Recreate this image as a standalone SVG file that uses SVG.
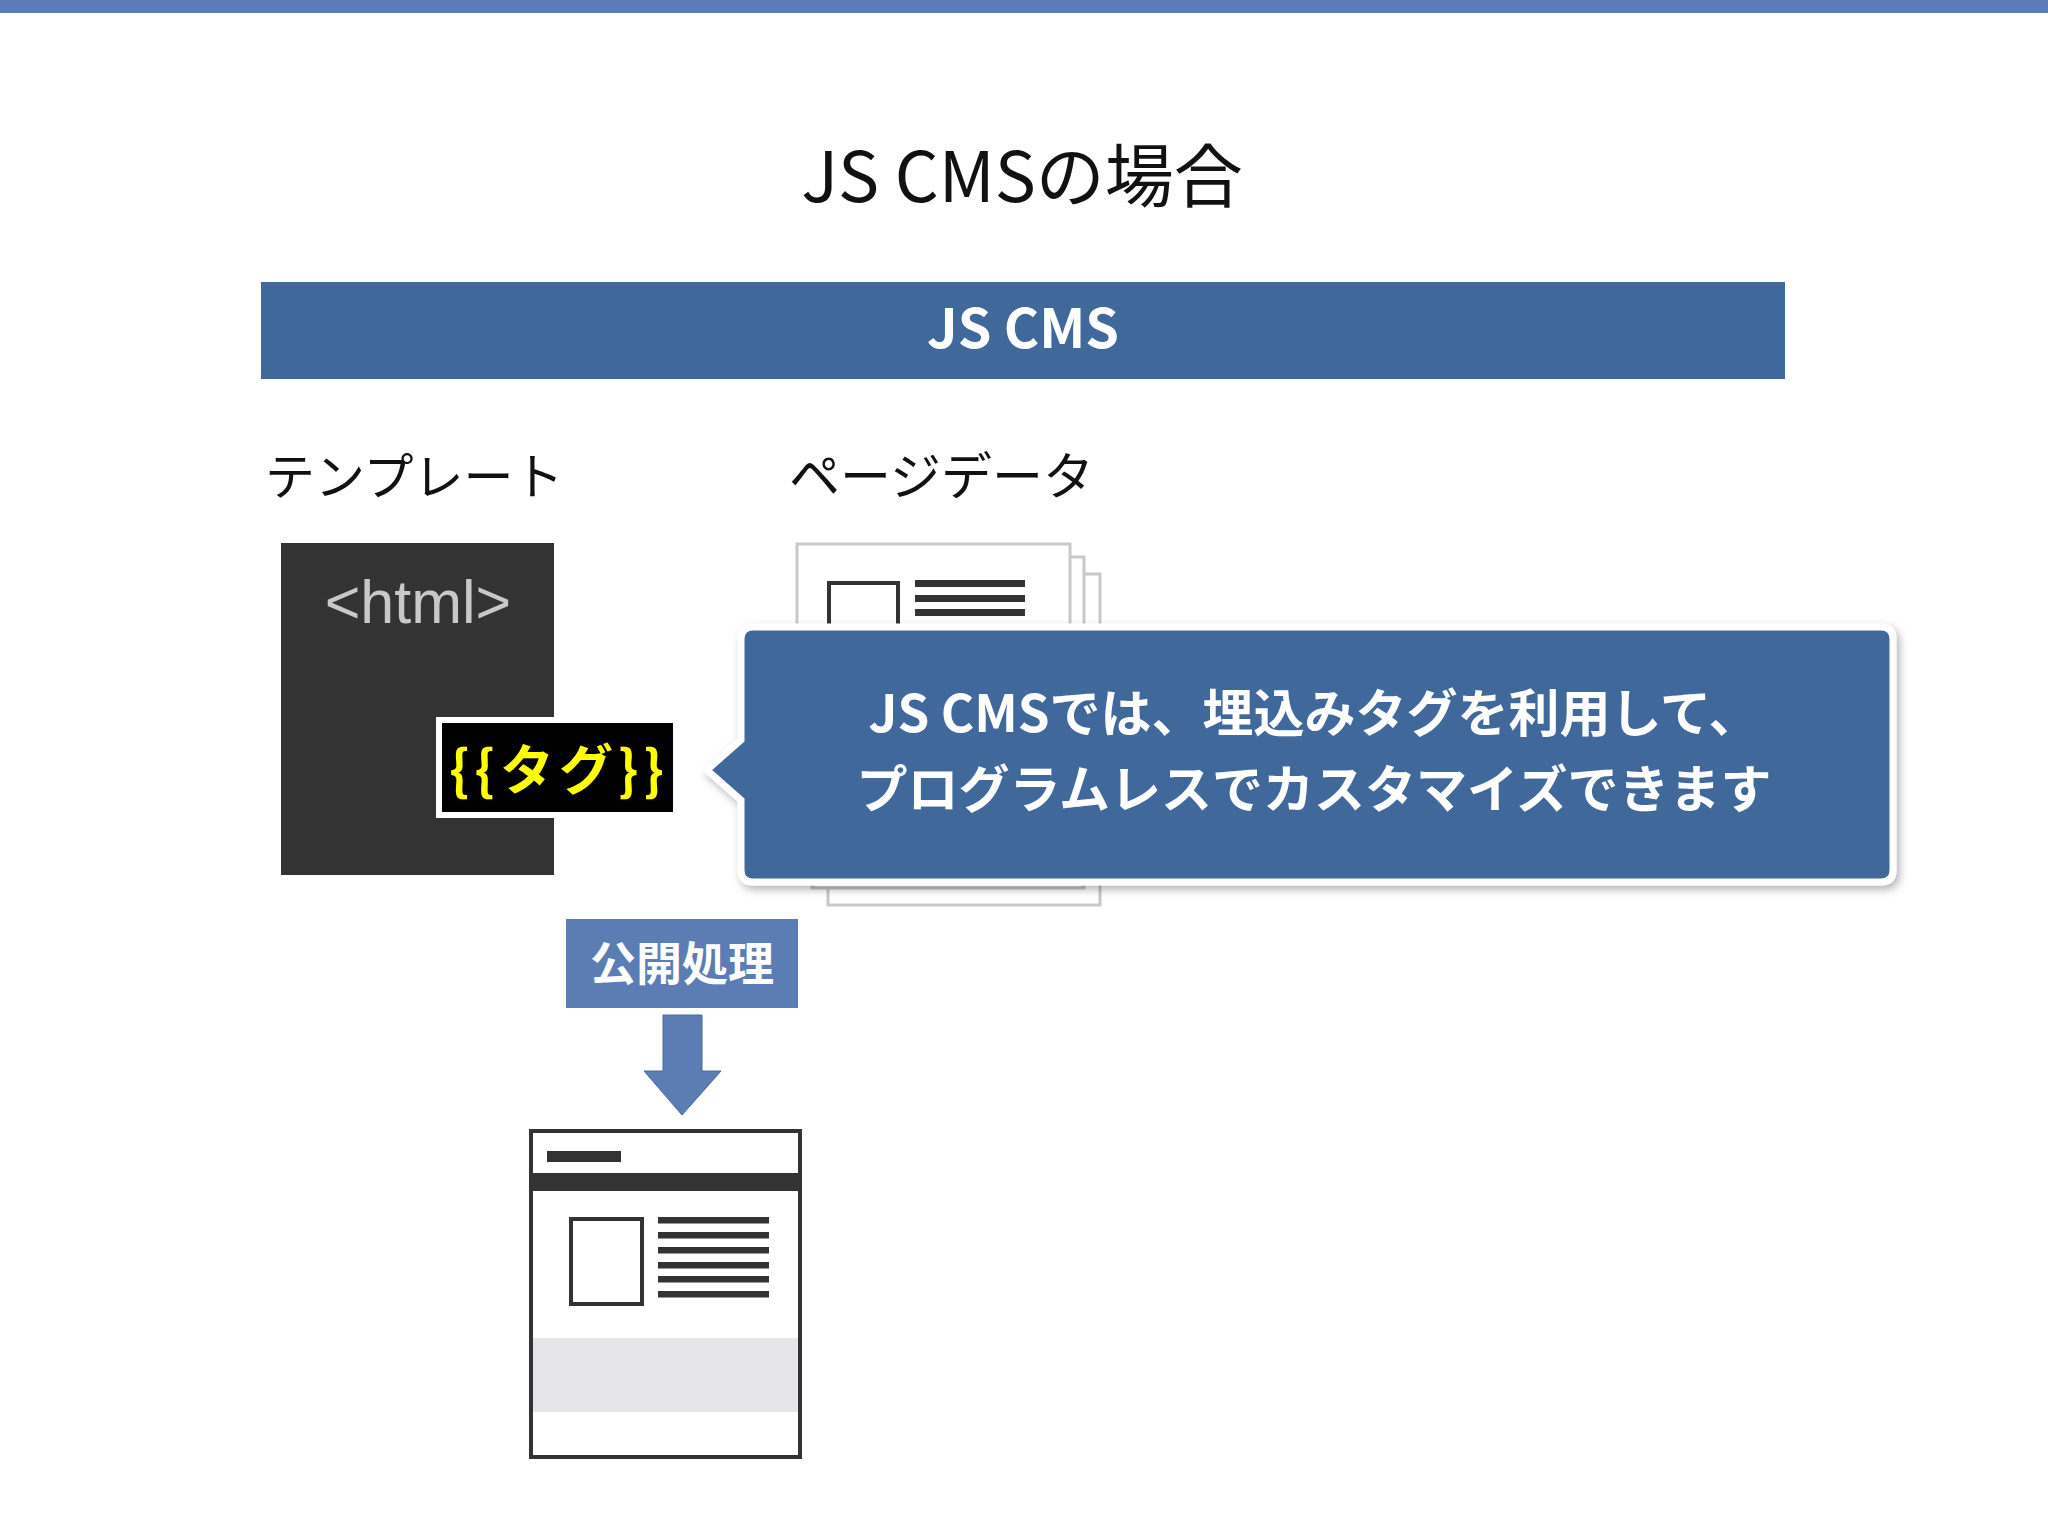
<svg xmlns="http://www.w3.org/2000/svg" width="2048" height="1536" viewBox="0 0 2048 1536">
<defs>
<style>
.jp{font-family:"Noto Sans CJK JP","Liberation Sans",sans-serif}
.b{font-weight:bold}
.w{fill:#ffffff}
.sheet{fill:#ffffff;stroke:#c8c8c8;stroke-width:3}
.ink{fill:#333333}
.blue{fill:#41689a}
.light{fill:#5b7db3}
</style>
<filter id="sh" x="-5%" y="-10%" width="115%" height="130%">
<feDropShadow dx="3" dy="4" stdDeviation="4" flood-color="#000000" flood-opacity="0.3"/>
</filter>
</defs>
<rect x="0" y="0" width="2048" height="1536" fill="#ffffff"/>
<rect x="0" y="0" width="2048" height="13" class="light"/>

<g id="title">
<text x="1022" y="202" text-anchor="middle" class="jp" font-size="69" fill="#111111">JS CMSの場合</text>
</g>

<g id="jscms-bar">
<rect x="261" y="282" width="1524" height="97" class="blue"/>
<text x="1023" y="348" text-anchor="middle" class="jp b w" font-size="54">JS CMS</text>
</g>

<g id="template-label">
<text x="265" y="495" class="jp" font-size="50" fill="#111111">テンプレート</text>
</g>
<g id="pagedata-label">
<text x="789" y="495" class="jp" font-size="51" fill="#111111">ページデータ</text>
</g>

<g id="template">
<rect x="281" y="543" width="273" height="332" class="ink"/>
<text x="418" y="623" text-anchor="middle" font-family="Liberation Sans, sans-serif" font-size="61" fill="#c8c8c8">&lt;html&gt;</text>
</g>

<g id="tag">
<rect x="439" y="720" width="237" height="95" fill="#000000" stroke="#ffffff" stroke-width="6"/>
<text x="559" y="790" text-anchor="middle" class="jp b" font-size="54" letter-spacing="5" fill="#ffff00">{{タグ}}</text>
</g>

<g id="pagedata">
<rect x="828" y="574" width="272" height="331" class="sheet"/>
<rect x="812" y="557" width="272" height="331" class="sheet"/>
<rect x="797" y="544" width="273" height="331" class="sheet"/>
<rect x="829" y="583" width="69" height="90" fill="none" stroke="#333333" stroke-width="4"/>
<rect x="915" y="580" width="110" height="7" class="ink"/>
<rect x="915" y="595" width="110" height="7" class="ink"/>
<rect x="915" y="609" width="110" height="7" class="ink"/>
</g>

<g id="callout">
<path d="M753,627 H1881 Q1893,627 1893,639 V870 Q1893,882 1881,882 H753 Q741,882 741,870 V800 L707,770 L741,740 V639 Q741,627 753,627 Z" class="blue" stroke="#ffffff" stroke-width="7" stroke-linejoin="miter" filter="url(#sh)"/>
<text x="1314" y="732" text-anchor="middle" class="jp b w" font-size="51">JS CMSでは、埋込みタグを利用して、</text>
<text x="1314" y="808" text-anchor="middle" class="jp b w" font-size="51">プログラムレスでカスタマイズできます</text>
</g>

<g id="publish">
<rect x="566" y="919" width="232" height="89" class="light"/>
<text x="682" y="980" text-anchor="middle" class="jp b w" font-size="46">公開処理</text>
</g>

<g id="connectors">
<path d="M663,1015 H702 V1071 H721 L682,1115 L644,1071 H663 Z" class="light" stroke="#4a6a9c" stroke-width="1"/>
</g>

<g id="output-page">
<rect x="531" y="1131" width="269" height="326" fill="#ffffff" stroke="#333333" stroke-width="4"/>
<rect x="547" y="1151" width="74" height="11" class="ink"/>
<rect x="531" y="1173" width="269" height="18" class="ink"/>
<rect x="571" y="1219" width="71" height="85" fill="none" stroke="#333333" stroke-width="4"/>
<rect x="658" y="1217" width="111" height="6.5" class="ink"/>
<rect x="658" y="1232" width="111" height="6.5" class="ink"/>
<rect x="658" y="1247" width="111" height="6.5" class="ink"/>
<rect x="658" y="1262" width="111" height="6.5" class="ink"/>
<rect x="658" y="1276" width="111" height="6.5" class="ink"/>
<rect x="658" y="1291" width="111" height="6.5" class="ink"/>
<rect x="533" y="1338" width="265" height="74" fill="#e6e5e8"/>
</g>
</svg>
